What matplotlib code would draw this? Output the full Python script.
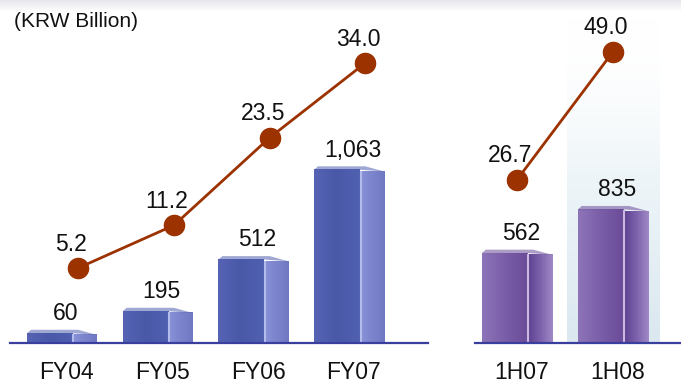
import numpy as np
import matplotlib.pyplot as plt
from matplotlib.colors import LinearSegmentedColormap
from matplotlib.patches import Polygon

# ---- data ----
fy_labels = ["FY04", "FY05", "FY06", "FY07"]
fy_bars = [60, 195, 512, 1063]
fy_line = [5.2, 11.2, 23.5, 34.0]
h_labels = ["1H07", "1H08"]
h_bars = [562, 835]
h_line = [26.7, 49.0]
unit_label = "(KRW Billion)"

plt.rcParams['font.family'] = ['Liberation Sans', 'DejaVu Sans']

W, H = 681, 384
fig = plt.figure(figsize=(W / 100, H / 100), dpi=100)
fig.patch.set_facecolor('white')


def px_axes(x0, x1, y_top, y_bot):
    return fig.add_axes([x0 / W, 1 - y_bot / H, (x1 - x0) / W, (y_bot - y_top) / H])


# faint grey band at top
band = fig.add_axes([0, 1 - 12 / H, 1, 12 / H])
g = np.linspace(0, 1, 32).reshape(-1, 1)
band.imshow(g, cmap=LinearSegmentedColormap.from_list('b', ['#e6e6ec', '#ffffff']),
            aspect='auto', extent=(0, 1, 0, 1), interpolation='bilinear')
band.axis('off')

LINE_C = '#9b3200'
BASE_C = '#3a3f9e'
FS = 16.5


def draw_box(ax, xc, h, front_cols, side_cols, stripe, ytop, width=0.73, frac=0.65):
    x0 = xc - width / 2
    xm = x0 + width * frac
    x1 = xc + width / 2
    grad = np.linspace(0, 1, 64).reshape(1, -1)
    tface = ytop * 0.010
    ax.imshow(grad, cmap=LinearSegmentedColormap.from_list('f', front_cols),
              extent=(x0, xm, 0, h), aspect='auto', zorder=2, interpolation='bilinear')
    ax.imshow(grad, cmap=LinearSegmentedColormap.from_list('s', side_cols),
              extent=(xm, x1, 0, h - tface * 0.5), aspect='auto', zorder=2,
              interpolation='bilinear')
    ax.vlines(xm + 0.01, 0, h - tface * 0.3, color=stripe, lw=1.5, zorder=3)
    top = Polygon([(x0, h), (x0 + 0.04, h + tface), (xm + 0.06, h + tface),
                   (x1, h - tface * 0.5), (xm, h)], closed=True,
                  facecolor=front_cols[-1], edgecolor='none', alpha=0.55, zorder=3)
    ax.add_patch(top)


def panel(x0px, x1px, c0px, step, labels, bars, line, bar_scale, line_zero_px,
          line_scale, line_off, front_cols, side_cols, stripe, highlight=None):
    base_px = 343
    ax = px_axes(x0px, x1px, 0, base_px)
    ax.patch.set_alpha(0)
    xs = np.arange(len(labels))
    xlim = ((x0px - c0px) / step, (x1px - c0px) / step)
    ytop = base_px / bar_scale
    if highlight is not None:
        hx0, hx1, htop_px = highlight
        gv = np.linspace(0, 1, 64).reshape(-1, 1)
        cmap = LinearSegmentedColormap.from_list(
            'h', [(1, 1, 1, 0.0), (0.93, 0.96, 0.975, 1.0), (0.86, 0.91, 0.94, 1.0)])
        ax.imshow(gv, cmap=cmap, extent=((hx0 - c0px) / step, (hx1 - c0px) / step,
                                          0, (base_px - htop_px) / bar_scale),
                  aspect='auto', zorder=0, interpolation='bilinear')
    for xi, v in zip(xs, bars):
        draw_box(ax, xi, v, front_cols, side_cols, stripe, ytop)
        ax.annotate(f"{v:,}", (xi + 0.04, v), xytext=(0, 9.5), textcoords='offset points',
                    ha='center', va='baseline', fontsize=FS, color='#111111', zorder=5)
    ax.axhline(0, color=BASE_C, lw=1.6, clip_on=False, zorder=4)
    ax.set_xlim(*xlim)
    ax.set_ylim(0, ytop)
    ax.set_xticks(xs + 0.05)
    ax.set_xticklabels(labels, fontsize=FS, color='#111111')
    ax.tick_params(axis='x', length=0, pad=13)
    ax.set_yticks([])
    for s in ax.spines.values():
        s.set_visible(False)

    axl = ax.twinx()
    lz = (base_px - line_zero_px)
    axl.set_ylim(-lz / line_scale, (base_px - lz) / line_scale)
    axl.set_xlim(*xlim)
    axl.plot(xs + line_off, line, color=LINE_C, lw=2, marker='o', ms=14.5,
             markerfacecolor=LINE_C, markeredgecolor=LINE_C, zorder=5, clip_on=False)
    for xi, v in zip(xs, line):
        axl.annotate(f"{v:.1f}", (xi + line_off, v), xytext=(-5, 12.5),
                     textcoords='offset points', ha='center', va='baseline',
                     fontsize=FS, color='#111111')
    axl.set_yticks([])
    for s in axl.spines.values():
        s.set_visible(False)
    return ax


blue_front = ['#5663b4', '#4a58a8', '#5060b0']
blue_side = ['#8a92d8', '#7b84cc', '#6f78c2']
purple_front = ['#8d74b8', '#7a5ea8', '#6a4b98']
purple_side = ['#5e4190', '#7c62ac', '#a089c6']

panel(10, 428, 62, 95.7, fy_labels, fy_bars, fy_line, 0.163, 305, 7.12, 0.17,
      blue_front, blue_side, '#b4bcec')
panel(475, 681, 517, 96, h_labels, h_bars, h_line, 0.16, 333, 5.74, 0.0,
      purple_front, purple_side, '#c8b8e2', highlight=(567, 660, 15))

fig.text(14 / W, 1 - 27 / H, unit_label, fontsize=15, color='#111111',
         ha='left', va='baseline')

fig.savefig('out.png', dpi=100)
